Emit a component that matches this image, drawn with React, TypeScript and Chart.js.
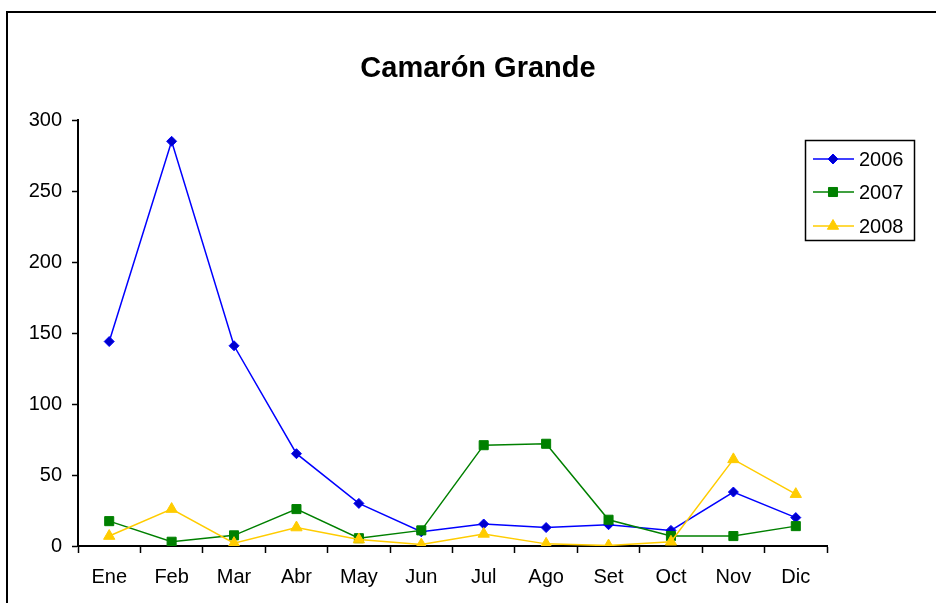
import React, { useEffect, useRef } from "react";
import { Chart, registerables } from "chart.js";

Chart.register(...registerables);

const months = ["Ene", "Feb", "Mar", "Abr", "May", "Jun", "Jul", "Ago", "Set", "Oct", "Nov", "Dic"];
const series2006 = [144, 285, 141, 65, 30, 10, 15.5, 13, 15, 11, 38, 20];
const series2007 = [17.5, 3, 7.5, 26, 5.5, 11, 71, 72, 18.5, 7, 7, 14];
const series2008 = [7, 26, 2, 13, 4.5, 1, 8.5, 1.5, 0.3, 3, 61, 36.5];
const yTicks = [0, 50, 100, 150, 200, 250, 300];
const titleText = "Camarón Grande";
const seriesNames = ["2006", "2007", "2008"];

const FONT = "'Liberation Sans', Arial, sans-serif";

function drawMarker(ctx: CanvasRenderingContext2D, style: string, x: number, y: number, r: number, fill: string, stroke: string) {
  ctx.save();
  ctx.fillStyle = fill;
  ctx.strokeStyle = stroke;
  ctx.lineWidth = 1;
  ctx.beginPath();
  if (style === "rectRot") {
    ctx.moveTo(x, y - r);
    ctx.lineTo(x + r, y);
    ctx.lineTo(x, y + r);
    ctx.lineTo(x - r, y);
    ctx.closePath();
  } else if (style === "rect") {
    const s = r * Math.SQRT1_2;
    ctx.rect(x - s, y - s, 2 * s, 2 * s);
  } else {
    const w = (r * Math.sqrt(3)) / 2;
    ctx.moveTo(x, y - r);
    ctx.lineTo(x + w, y + r / 2);
    ctx.lineTo(x - w, y + r / 2);
    ctx.closePath();
  }
  ctx.fill();
  ctx.stroke();
  ctx.restore();
}

const decorPlugin = {
  id: "decor",
  beforeDraw(chart: any) {
    const ctx = chart.ctx as CanvasRenderingContext2D;
    ctx.save();
    ctx.fillStyle = "#ffffff";
    ctx.fillRect(0, 0, chart.width, chart.height);
    ctx.strokeStyle = "#000000";
    ctx.lineWidth = 2;
    ctx.strokeRect(7, 12, 1200, 1200);
    ctx.fillStyle = "#000000";
    ctx.font = `bold 29px ${FONT}`;
    ctx.textAlign = "center";
    ctx.textBaseline = "alphabetic";
    ctx.fillText(titleText, 478, 77);
    ctx.restore();
  },
  afterDraw(chart: any) {
    const ctx = chart.ctx as CanvasRenderingContext2D;
    ctx.save();
    ctx.strokeStyle = "#000000";
    ctx.lineWidth = 1.5;
    ctx.strokeRect(805.5, 140.5, 109, 100);
    const ys = [159, 192, 226];
    chart.data.datasets.forEach((ds: any, i: number) => {
      const y = ys[i];
      ctx.strokeStyle = ds.borderColor;
      ctx.lineWidth = ds.borderWidth;
      ctx.beginPath();
      ctx.moveTo(813, y);
      ctx.lineTo(854, y);
      ctx.stroke();
      drawMarker(ctx, ds.pointStyle, 833, y, ds.pointRadius, ds.pointBackgroundColor, ds.pointBorderColor);
      ctx.fillStyle = "#000000";
      ctx.font = `20px ${FONT}`;
      ctx.textAlign = "left";
      ctx.textBaseline = "middle";
      ctx.fillText(ds.label, 859, y + 1);
    });
    ctx.restore();
  },
};

export default function App() {
  const canvasRef = useRef<HTMLCanvasElement | null>(null);

  useEffect(() => {
    const canvas = canvasRef.current;
    if (!canvas) return;
    const chart = new Chart(canvas, {
      type: "line",
      data: {
        labels: months,
        datasets: [
          {
            label: seriesNames[0],
            data: series2006,
            borderColor: "#0000FF",
            borderWidth: 1.5,
            pointStyle: "rectRot",
            pointRadius: 5,
            pointBackgroundColor: "#0000CC",
            pointBorderColor: "#0000FF",
            pointBorderWidth: 1,
            tension: 0,
            order: 3,
          },
          {
            label: seriesNames[1],
            data: series2007,
            borderColor: "#008000",
            borderWidth: 1.5,
            pointStyle: "rect",
            pointRadius: 6.4,
            pointBackgroundColor: "#008000",
            pointBorderColor: "#008000",
            pointBorderWidth: 1,
            tension: 0,
            order: 2,
          },
          {
            label: seriesNames[2],
            data: series2008,
            borderColor: "#FFCC00",
            borderWidth: 1.5,
            pointStyle: "triangle",
            pointRadius: 6.5,
            pointBackgroundColor: "#FFCC00",
            pointBorderColor: "#FFCC00",
            pointBorderWidth: 1,
            tension: 0,
            order: 1,
          },
        ],
      },
      options: {
        animation: false,
        responsive: false,
        maintainAspectRatio: false,
        layout: { padding: { top: 120, left: 0, right: 109, bottom: 0 } },
        plugins: {
          legend: { display: false },
          title: { display: false },
          tooltip: { enabled: false },
        },
        scales: {
          x: {
            type: "category",
            offset: true,
            afterFit: (scale: any) => {
              scale.height = 57;
            },
            grid: {
              offset: true,
              drawOnChartArea: false,
              drawTicks: true,
              tickLength: 7,
              tickColor: "#000000",
              tickWidth: 1.5,
            },
            border: { display: true, color: "#000000", width: 2 },
            ticks: {
              color: "#000000",
              font: { family: FONT, size: 20 },
              padding: 12,
              maxRotation: 0,
              autoSkip: false,
            },
          },
          y: {
            min: 0,
            max: 300,
            afterFit: (scale: any) => {
              scale.width = 78;
            },
            afterBuildTicks: (scale: any) => {
              scale.ticks = yTicks.map((v) => ({ value: v }));
            },
            grid: {
              drawOnChartArea: false,
              drawTicks: true,
              tickLength: 6,
              tickColor: "#000000",
              tickWidth: 1.5,
            },
            border: { display: true, color: "#000000", width: 2 },
            ticks: {
              color: "#000000",
              font: { family: FONT, size: 20 },
              padding: 10,
            },
          },
        },
      },
      plugins: [decorPlugin],
    });
    return () => chart.destroy();
  }, []);

  return (
    <div style={{ position: "fixed", left: 0, top: 0, width: 936, height: 603, background: "#fff" }}>
      <canvas ref={canvasRef} width={936} height={603} style={{ display: "block", width: 936, height: 603 }} />
    </div>
  );
}
